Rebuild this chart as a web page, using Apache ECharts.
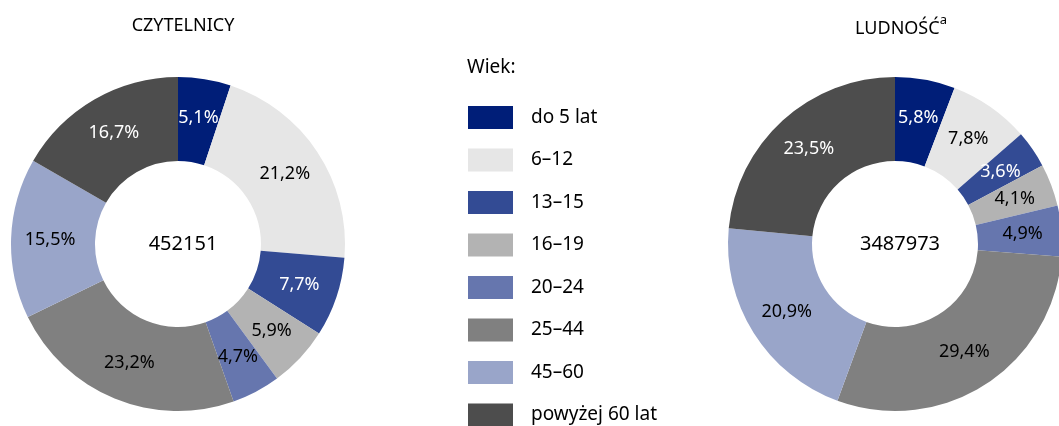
<!doctype html>
<html>
<head>
<meta charset="UTF-8">
<script src="https://cdn.jsdelivr.net/npm/echarts@6/dist/echarts.min.js"></script>
<style>
  html, body { margin: 0; padding: 0; background: #fff; }
  #chart { width: 1059px; height: 426px; }
</style>
</head>
<body>
<div id="chart"></div>
<script type="text/javascript">
    // dane
    var ageGroups = ['do 5 lat', '6–12', '13–15', '16–19', '20–24', '25–44', '45–60', 'powyżej 60 lat'];
    var readers = [5.1, 21.2, 7.7, 5.9, 4.7, 23.2, 15.5, 16.7];
    var population = [5.8, 7.8, 3.6, 4.1, 4.9, 29.4, 20.9, 23.5];
    var totals = ['452151', '3487973'];
    var colors = ['#001e78', '#e6e6e6', '#334b94', '#b3b3b3', '#6676ae', '#808080', '#99a5c9', '#4d4d4d'];
    var labelColors = ['#fff', '#000', '#fff', '#000', '#000', '#000', '#000', '#fff'];

    var font = 'Noto Sans';

    function makeData(values) {
        return values.map(function (v, i) {
            return {
                name: ageGroups[i],
                value: v,
                itemStyle: { color: colors[i] },
                label: { color: labelColors[i] }
            };
        });
    }

    function fmt(p) {
        return p.value.toFixed(1).replace('.', ',') + '%';
    }

    var myChart = echarts.init(document.getElementById('chart'));
    var option = {
        animation: false,
        title: [
            { text: 'CZYTELNICY', left: 178, top: 12, textAlign: 'center',
              textStyle: { fontFamily: font, fontSize: 18, fontWeight: 'normal', color: '#000' } },
            { text: '{m|LUDNOŚĆ}{s|a}', left: 896, top: 9, textAlign: 'center',
              textStyle: { rich: {
                  m: { fontFamily: font, fontSize: 18, fontWeight: 'normal', color: '#000', verticalAlign: 'bottom', padding: [6, 0, 0, 0] },
                  s: { fontFamily: font, fontSize: 13, fontWeight: 'normal', color: '#000', verticalAlign: 'top' }
              } } },
            { text: 'Wiek:', left: 462, top: 53,
              textStyle: { fontFamily: font, fontSize: 19, fontWeight: 'normal', color: '#000' } },
            { text: totals[0], left: 178, top: 229, textAlign: 'center',
              textStyle: { fontFamily: font, fontSize: 20, fontWeight: 'normal', color: '#000' } },
            { text: totals[1], left: 895, top: 229, textAlign: 'center',
              textStyle: { fontFamily: font, fontSize: 20, fontWeight: 'normal', color: '#000' } }
        ],
        legend: {
            orient: 'vertical',
            left: 463,
            top: 101,
            height: 330,
            icon: 'rect',
            itemWidth: 45,
            itemHeight: 23,
            itemGap: 19.5,
            data: ageGroups,
            selectedMode: false,
            textStyle: { fontFamily: font, fontSize: 19, color: '#000', padding: [0, 0, 0, 13] }
        },
        series: [{
            name: 'Czytelnicy',
            type: 'pie',
            center: [178, 244],
            radius: [83, 167],
            startAngle: 90,
            clockwise: true,
            silent: true,
            label: { show: true, position: 'inside', formatter: fmt, fontFamily: font, fontSize: 18 },
            labelLine: { show: false },
            data: makeData(readers)
        }, {
            name: 'Ludność',
            type: 'pie',
            center: [895, 244],
            radius: [83, 167],
            startAngle: 90,
            clockwise: true,
            silent: true,
            label: { show: true, position: 'inside', formatter: fmt, fontFamily: font, fontSize: 18 },
            labelLine: { show: false },
            data: makeData(population)
        }]
    };
    myChart.setOption(option);
</script>
</body>
</html>
